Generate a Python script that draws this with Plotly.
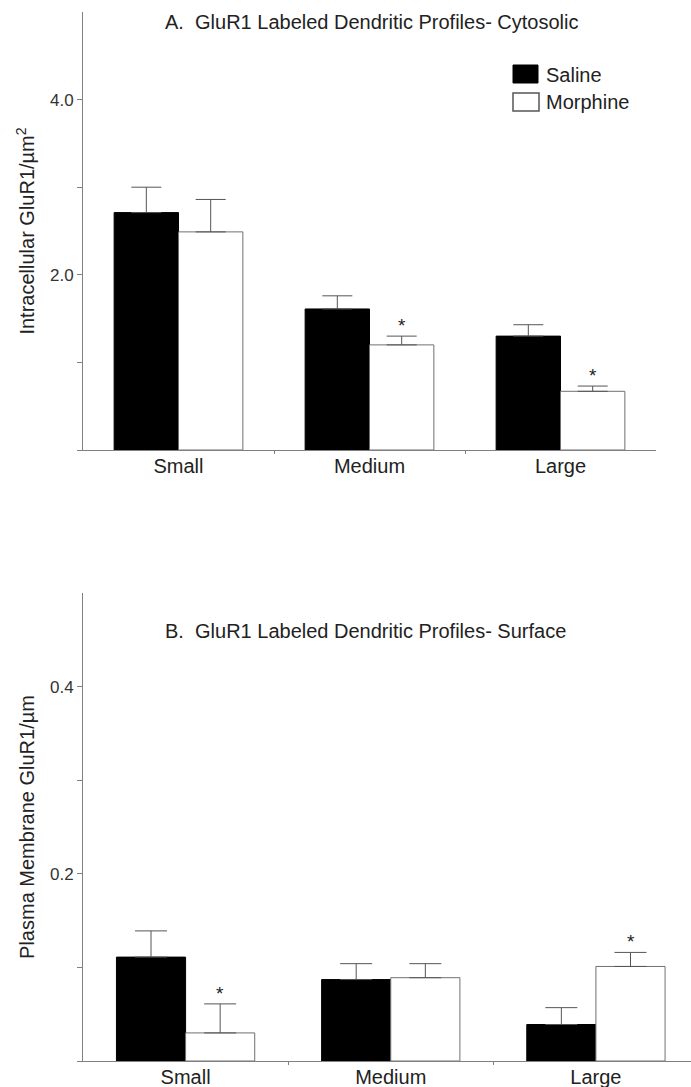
import plotly.graph_objects as go

# ---- data ----
categories = ["Small", "Medium", "Large"]
series_names = ["Saline", "Morphine"]

cyto_saline = [2.71, 1.61, 1.30]
cyto_saline_err = [0.29, 0.15, 0.13]
cyto_morphine = [2.49, 1.20, 0.67]
cyto_morphine_err = [0.37, 0.10, 0.06]
cyto_morphine_sig = [False, True, True]

surf_saline = [0.111, 0.087, 0.039]
surf_saline_err = [0.028, 0.017, 0.018]
surf_morphine = [0.030, 0.089, 0.101]
surf_morphine_err = [0.031, 0.015, 0.015]
surf_morphine_sig = [True, False, True]

cyto_ticks = [2, 4]
cyto_ticktext = ["2.0", "4.0"]
cyto_minor = [0, 1, 3]
surf_ticks = [0.2, 0.4]
surf_ticktext = ["0.2", "0.4"]
surf_minor = [0, 0.1, 0.3]

title_a = "A.  GluR1 Labeled Dendritic Profiles- Cytosolic"
title_b = "B.  GluR1 Labeled Dendritic Profiles- Surface"
ytitle_a = "Intracellular GluR1/µm<sup>2</sup>"
ytitle_b = "Plasma Membrane GluR1/µm"

# ---- layout geometry ----
W, H = 691, 1087
FONT = "Liberation Sans, Arial, sans-serif"
TXT = "#222222"
AX = "#808080"
ERR = "#555555"
xpos = list(range(len(categories)))
BARGAP = 0.326
offset = (1 - BARGAP) / 4  # centre offset of each bar in a group

fig = go.Figure()


def add_panel(sal, sal_e, mor, mor_e, xa, ya, cap):
    fig.add_trace(go.Bar(
        x=xpos, y=sal, name=series_names[0], xaxis=xa, yaxis=ya,
        marker=dict(color="#000000", line=dict(color="#000000", width=1)),
        error_y=dict(type="data", array=sal_e, arrayminus=[0] * len(sal_e),
                     symmetric=False, color=ERR, thickness=1, width=cap),
        showlegend=False))
    fig.add_trace(go.Bar(
        x=xpos, y=mor, name=series_names[1], xaxis=xa, yaxis=ya,
        marker=dict(color="#ffffff", line=dict(color="#707070", width=1)),
        error_y=dict(type="data", array=mor_e, arrayminus=[0] * len(mor_e),
                     symmetric=False, color=ERR, thickness=1, width=cap),
        showlegend=False))


add_panel(cyto_saline, cyto_saline_err, cyto_morphine, cyto_morphine_err, "x", "y", 15)
add_panel(surf_saline, surf_saline_err, surf_morphine, surf_morphine_err, "x2", "y2", 16)

annotations = []
for i, s in enumerate(cyto_morphine_sig):
    if s:
        annotations.append(dict(x=xpos[i] + offset, y=cyto_morphine[i] + cyto_morphine_err[i],
                                xref="x", yref="y", text="*", showarrow=False,
                                yanchor="bottom", yshift=-2,
                                font=dict(size=19, color=TXT, family=FONT)))
for i, s in enumerate(surf_morphine_sig):
    if s:
        annotations.append(dict(x=xpos[i] + offset, y=surf_morphine[i] + surf_morphine_err[i],
                                xref="x2", yref="y2", text="*", showarrow=False,
                                yanchor="bottom", yshift=-2,
                                font=dict(size=19, color=TXT, family=FONT)))

# panel titles
annotations.append(dict(x=163 / W, y=1 - 22 / H, xref="paper", yref="paper", text=title_a,
                        showarrow=False, xanchor="left", yanchor="middle",
                        font=dict(size=20, color=TXT, family=FONT)))
annotations.append(dict(x=163 / W, y=1 - 631 / H, xref="paper", yref="paper", text=title_b,
                        showarrow=False, xanchor="left", yanchor="middle",
                        font=dict(size=20, color=TXT, family=FONT)))

# legend (swatches + labels)
shapes = [
    dict(type="rect", xref="paper", yref="paper", x0=513 / W, x1=538 / W,
         y0=1 - 83 / H, y1=1 - 65 / H, fillcolor="#000000", line=dict(color="#000000", width=1)),
    dict(type="rect", xref="paper", yref="paper", x0=513 / W, x1=539 / W,
         y0=1 - 111 / H, y1=1 - 93 / H, fillcolor="#ffffff", line=dict(color="#555555", width=1.5)),
]
for name, yc in zip(series_names, [75, 102]):
    annotations.append(dict(x=544 / W, y=1 - yc / H, xref="paper", yref="paper", text=name,
                            showarrow=False, xanchor="left", yanchor="middle",
                            font=dict(size=20, color=TXT, family=FONT)))

xcommon = dict(showline=True, linecolor=AX, linewidth=1, tickmode="array", tickvals=xpos,
               ticktext=categories, ticks="", showgrid=False, zeroline=False,
               ticklabelstandoff=-2,
               tickfont=dict(size=20, color=TXT, family=FONT),
               minor=dict(tickmode="array", tickvals=[0.5, 1.5], ticks="outside",
                          ticklen=3, tickcolor=AX, showgrid=False))
ycommon = dict(showline=True, linecolor=AX, linewidth=1, tickmode="array", ticks="outside",
               ticklen=5, tickcolor=AX, showgrid=False, zeroline=False,
               tickfont=dict(size=17, color="#333333", family=FONT))

fig.update_layout(
    width=W, height=H, margin=dict(l=0, r=0, t=0, b=0),
    paper_bgcolor="white", plot_bgcolor="white",
    barmode="group", bargap=BARGAP, bargroupgap=0,
    font=dict(family=FONT, color=TXT),
    xaxis=dict(domain=[83 / W, 656 / W], range=[-0.5, 2.5], anchor="y", **xcommon),
    yaxis=dict(domain=[1 - 450 / H, 1 - 12 / H], range=[0, 5], anchor="x",
               tickvals=cyto_ticks, ticktext=cyto_ticktext,
               minor=dict(tickmode="array", tickvals=cyto_minor, ticks="outside",
                          ticklen=5, tickcolor=AX, showgrid=False),
               title=dict(text=ytitle_a, font=dict(size=20, color=TXT, family=FONT), standoff=9),
               **ycommon),
    xaxis2=dict(domain=[83 / W, 1.0], range=[-0.5, 2.4634], anchor="y2", **xcommon),
    yaxis2=dict(domain=[1 - 1061 / H, 1 - 593 / H], range=[0, 0.5], anchor="x2",
                tickvals=surf_ticks, ticktext=surf_ticktext,
                minor=dict(tickmode="array", tickvals=surf_minor, ticks="outside",
                           ticklen=5, tickcolor=AX, showgrid=False),
                title=dict(text=ytitle_b, font=dict(size=20, color=TXT, family=FONT), standoff=9),
                **ycommon),
    annotations=annotations, shapes=shapes,
)

fig.write_html("out.html", config={"displayModeBar": False},
               post_script="document.body.style.margin='0px';")
